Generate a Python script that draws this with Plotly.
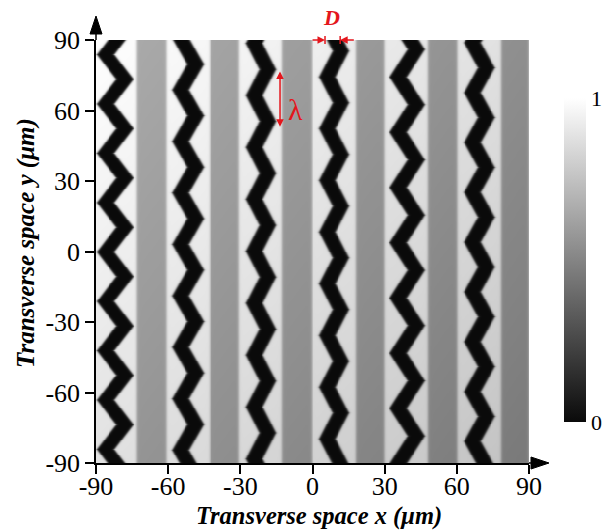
import numpy as np
import plotly.graph_objects as go

# ---------------- data ----------------
tick_vals = [-90, -60, -30, 0, 30, 60, 90]
tick_text = ["-90", "-60", "-30", "0", "30", "60", "90"]

# zig-zag (black) stripes
stripe_x = [-82.0, -51.7, -21.4, 9.0, 39.4, 69.4]          # centre x (um)
stripe_amp = [4.0, 3.1, 2.8, 2.8, 3.75, 2.9]                # half amplitude (um)
stripe_period = [21.0, 21.9, 22.1, 22.0, 23.5, 21.2]        # lambda (um)
stripe_vertex_y = [73.3, 79.7, 77.5, 85.3, 86.0, 78.2]      # y of a right-pointing vertex
stripe_width = [7.2, 7.0, 7.0, 6.8, 7.2, 7.0]               # horizontal width D (um)

# grey bars
bar_left = [-73.0, -42.6, -12.8, 18.0, 48.0, 78.4]
bar_right = [-60.6, -30.5, -0.3, 29.8, 60.2, 90.0]

# intensity levels
white_level = 1.0
bar_level = 0.66
stripe_level = 0.0
white_grad_x, white_grad_y = 0.13, 0.12
bar_grad_x, bar_grad_y = 0.12, 0.085

# annotation values
lambda_x = -13.5
lambda_y = [53.1, 77.2]
lambda_label = (-7.0, 60.5)
D_tips = [5.2, 11.5]
D_tails = [-0.6, 17.8]

RED = "#e4161c"
FONT = "Liberation Serif"

# ---------------- build the image ----------------
step = 0.4
xs = np.arange(-90 + step / 2, 90, step)
ys = np.arange(-90 + step / 2, 90, step)
X, Y = np.meshgrid(xs, ys)
sx = (X + 90) / 180
sy = (90 - Y) / 180


def sig(d, s=0.3):
    return 1.0 / (1.0 + np.exp(-d / s))


bg = white_level - white_grad_x * sx - white_grad_y * sy
bars = bar_level - bar_grad_x * sx - bar_grad_y * sy
m_bar = np.zeros_like(X)
for l, r in zip(bar_left, bar_right):
    m_bar = np.maximum(m_bar, sig(X - l) * sig(r - X))
Z = bg * (1 - m_bar) + bars * m_bar

for xc, a, lam, y0, w in zip(stripe_x, stripe_amp, stripe_period, stripe_vertex_y, stripe_width):
    t = (Y - y0) / lam
    tri = 4 * np.abs((t - np.floor(t)) - 0.5) - 1
    c = xc + a * tri
    m = sig(w / 2 - np.abs(X - c))
    Z = Z * (1 - m) + stripe_level * m

Z = np.round(Z, 3)

fig = go.Figure()
fig.add_trace(go.Heatmap(
    x=np.round(xs, 2), y=np.round(ys, 2), z=Z,
    zmin=0, zmax=1,
    colorscale=[[0, "#0a0a0a"], [1, "#ffffff"]],
    hoverinfo="skip",
    colorbar=dict(
        x=(564 - 96) / 433, xanchor="left", xpad=0, ypad=0,
        y=0.48, yanchor="middle",
        lenmode="pixels", len=324, thickness=22,
        outlinewidth=0,
        tickmode="array", tickvals=[0, 1], ticktext=["0", "1"],
        ticks="", tickfont=dict(family=FONT, size=22, color="black"),
    ),
))

axis_common = dict(
    range=[-90, 90], tickmode="array", tickvals=tick_vals, ticktext=tick_text,
    ticks="outside", ticklen=9, tickwidth=1.5, tickcolor="black",
    showline=True, linecolor="black", linewidth=1.5,
    showgrid=False, zeroline=False,
    tickfont=dict(family=FONT, size=26, color="black"),
)
fig.update_xaxes(**axis_common, ticklabelstandoff=-10)
fig.update_yaxes(**axis_common)

# axis arrows (paper coordinates)
px_x = 1 / 433
px_y = 1 / 423
shapes = [
    dict(type="line", xref="paper", yref="paper", x0=1, x1=1 + 4 * px_x, y0=0, y1=0,
         line=dict(color="black", width=1.5)),
    dict(type="path", xref="paper", yref="paper",
         path=f"M {1 + 2 * px_x} {-6 * px_y} L {1 + 20 * px_x} 0 L {1 + 2 * px_x} {6 * px_y} Z",
         fillcolor="black", line=dict(color="black", width=1)),
    dict(type="line", xref="paper", yref="paper", x0=0, x1=0, y0=1, y1=1 + 8 * px_y,
         line=dict(color="black", width=1.5)),
    dict(type="path", xref="paper", yref="paper",
         path=f"M {-6 * px_x} {1 + 6 * px_y} L 0 {1 + 24 * px_y} L {6 * px_x} {1 + 6 * px_y} Z",
         fillcolor="black", line=dict(color="black", width=1)),
]
# small bars at the D arrow tips
for xt in D_tips:
    xp = (xt + 90) / 180
    shapes.append(dict(type="line", xref="paper", yref="paper", x0=xp, x1=xp,
                       y0=1 - 4 * px_y, y1=1 + 4 * px_y, line=dict(color=RED, width=1.5)))

annotations = [
    dict(text="<b><i>Transverse space x (μm)</i></b>", xref="paper", yref="paper",
         x=0.515, y=-0.125, showarrow=False, xanchor="center", yanchor="middle",
         font=dict(family=FONT, size=24.5, color="black")),
    dict(text="<b><i>Transverse space y (μm)</i></b>", xref="paper", yref="paper",
         x=-0.162, y=0.52, showarrow=False, xanchor="center", yanchor="middle",
         textangle=-90, font=dict(family=FONT, size=25, color="black")),
    dict(text="", x=lambda_x, y=lambda_y[0], ax=lambda_x, ay=lambda_y[1],
         xref="x", yref="y", axref="x", ayref="y", showarrow=True,
         arrowside="start+end", arrowhead=2, arrowsize=1, arrowwidth=1.5, arrowcolor=RED),
    dict(text="λ", x=lambda_label[0], y=lambda_label[1], xref="x", yref="y",
         showarrow=False, xanchor="center", yanchor="middle",
         font=dict(family=FONT, size=30, color=RED)),
    dict(text="<b><i>D</i></b>", xref="paper", yref="paper",
         x=(331.7 - 96) / 433, y=(463 - 18) / 423, showarrow=False,
         xanchor="center", yanchor="middle",
         font=dict(family=FONT, size=22, color=RED)),
]
for tip, tail in zip(D_tips, D_tails):
    annotations.append(dict(text="", x=tip, y=1.0, ax=tail, ay=1.0,
                            xref="x", yref="y domain", axref="x", ayref="y domain",
                            showarrow=True, arrowhead=2, arrowsize=1, arrowwidth=1.5,
                            arrowcolor=RED, standoff=0))

fig.update_layout(
    width=613, height=532,
    margin=dict(l=96, r=84, t=40, b=69),
    paper_bgcolor="white", plot_bgcolor="white",
    shapes=shapes, annotations=annotations,
    showlegend=False,
)

fig.write_html("out.html")
